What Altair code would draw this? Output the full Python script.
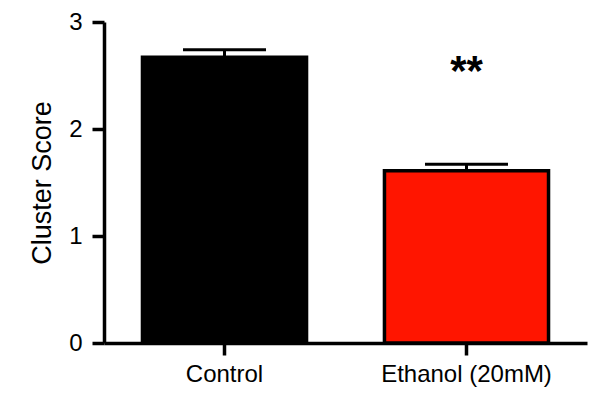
import altair as alt
import pandas as pd

groups = ["Control", "Ethanol (20mM)"]
means = [2.67, 1.61]
sems = [0.07, 0.06]
colors = ["#000000", "#ff1500"]
stars = ["", "**"]

df = pd.DataFrame({"group": groups, "mean": means, "sem": sems, "color": colors, "star": stars})
df["upper"] = df["mean"] + df["sem"]

FONT = "Liberation Sans"

xscale = alt.Scale(domain=groups, paddingInner=0.322, paddingOuter=0.159)
yscale = alt.Scale(domain=[0, 3], nice=False)

xaxis = alt.Axis(title=None, labelAngle=0, labelAlign="center", labelBaseline="top",
                 labelFontSize=24, labelPadding=7)
yaxis = alt.Axis(title="Cluster Score", values=[0, 1, 2, 3], format="d",
                 titleFontSize=27, titleFontWeight="normal", labelFontSize=24,
                 labelPadding=10, titlePadding=12)

X = alt.X("group:N", scale=xscale, sort=groups, axis=xaxis)

base = alt.Chart(df)

bars = base.mark_bar(stroke="black", strokeWidth=3.5, opacity=1).encode(
    x=X,
    y=alt.Y("mean:Q", scale=yscale, axis=yaxis),
    fill=alt.Fill("color:N", scale=None),
)

err = base.mark_rule(color="black", strokeWidth=3, opacity=1).encode(
    x=X,
    y=alt.Y("mean:Q", scale=yscale, axis=yaxis),
    y2="upper:Q",
)

caps = base.mark_tick(color="black", size=83, thickness=3, opacity=1).encode(
    x=X,
    y=alt.Y("upper:Q", scale=yscale, axis=yaxis),
)

txt = base.mark_text(fontSize=42, fontWeight="bold", baseline="middle", font=FONT, color="black").encode(
    x=X,
    y=alt.YDatum(2.53, scale=yscale, axis=yaxis),
    text="star:N",
)

chart = alt.layer(bars, err, caps, txt).properties(
    width=483, height=321,
    autosize=alt.AutoSizeParams(type="none"),
    padding={"left": 96, "top": 14, "right": 5, "bottom": 60},
    background="white",
).configure_view(stroke=None).configure_axis(
    grid=False,
    domainColor="black", domainWidth=3.5,
    tickColor="black", tickWidth=3.5, tickSize=12,
    labelColor="black", titleColor="black",
    labelFont=FONT, titleFont=FONT,
    labelFontSize=24,
).configure_axisY(titleFontSize=27, titleFontWeight="normal")

chart.save("out.html", embed_options={"renderer": "svg", "actions": False})
